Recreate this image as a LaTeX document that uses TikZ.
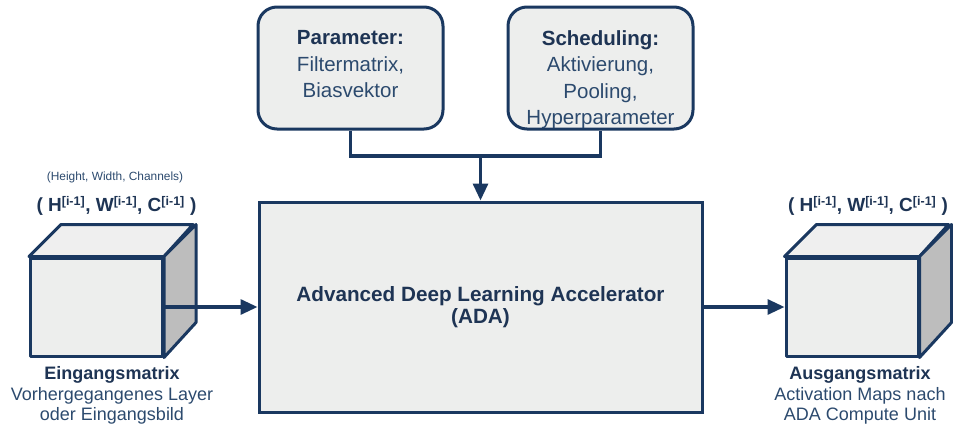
\documentclass[tikz,border=0pt]{standalone}
\usepackage{fontspec}
\setmainfont{Liberation Sans}
\usetikzlibrary{arrows.meta}
\definecolor{navy}{HTML}{1A3860}
\definecolor{txt}{HTML}{2C4A6E}
\definecolor{btxt}{HTML}{1E3454}
\definecolor{boxfill}{HTML}{EDEEED}
\definecolor{topfill}{HTML}{EFEFEF}
\definecolor{sidefill}{HTML}{BDBDBD}
\begin{document}
\begin{tikzpicture}[x=1pt,y=-1pt,line width=3pt,
  rbox/.style={draw=navy,fill=boxfill,rounded corners=19pt,minimum width=185pt,minimum height=122pt,inner sep=0pt},
  btext/.style={anchor=north,inner sep=0pt,align=center,text=txt,font=\fontsize{20.5}{26.5}\selectfont},
  adabox/.style={draw=navy,fill=boxfill,minimum width=443pt,minimum height=210pt,align=center,text=btxt,font=\bfseries\fontsize{20.7}{22}\selectfont},
  front/.style={draw=navy,fill=boxfill,minimum width=132pt,minimum height=98pt,inner sep=0pt,line join=round},
  face/.style={draw=navy,line join=round},
  dimtext/.style={inner sep=0pt,text=btxt,font=\bfseries\fontsize{19}{22}\selectfont},
  smalltext/.style={inner sep=0pt,text=txt,font=\fontsize{11.9}{14}\selectfont},
  captext/.style={anchor=north,inner sep=0pt,align=center,text=txt,font=\fontsize{18}{20.5}\selectfont},
  conn/.style={draw=navy,line width=3.2pt},
  arr/.style={conn,-{Triangle[length=17pt,width=15pt]}}
]
\useasboundingbox (0,0) rectangle (953,423);

% top boxes
\node[rbox] (param) at (350.5,68) {};
\node[btext] (paramt) at (350.5,29) {\textcolor{btxt}{\bfseries Parameter:}\\Filtermatrix,\\Biasvektor};
\node[rbox] (sched) at (600.5,68) {};
\node[btext] (schedt) at (600.5,29) {\textcolor{btxt}{\bfseries Scheduling:}\\Aktivierung,\\Pooling,\\Hyperparameter};

% ADA
\node[adabox] (ada) at (480.5,307) {Advanced Deep Learning Accelerator\\(ADA)};

% connectors from top boxes
\coordinate (join) at (480.5,156);
\draw[conn] (param.south) |- (join) -| (sched.south);
\draw[arr] (join) -- (ada.north);

% input cube
\node[front] (incube) at (96.5,307) {};
\draw[face,fill=topfill] (incube.north west) -- ++(32,-32) -- ++(132,0) -- (incube.north east) -- cycle;
\draw[face,fill=sidefill] (incube.north east) -- ++(32,-32) -- ++(0,98) -- (incube.south east) -- cycle;
\node[smalltext] (inhint) at (115,177) {(Height, Width, Channels)};
\node[dimtext] (indim) at (116.5,206) {( H\textsuperscript{\fontsize{12.5}{14}\selectfont[i-1]}, W\textsuperscript{\fontsize{12.5}{14}\selectfont[i-1]}, C\textsuperscript{\fontsize{12.5}{14}\selectfont[i-1]} )};
\node[captext] (incap) at (112,365) {\textcolor{btxt}{\bfseries Eingangsmatrix}\\Vorhergegangenes Layer\\oder Eingangsbild};

% output cube
\node[front] (outcube) at (852,307) {};
\draw[face,fill=topfill] (outcube.north west) -- ++(32,-32) -- ++(132,0) -- (outcube.north east) -- cycle;
\draw[face,fill=sidefill] (outcube.north east) -- ++(32,-32) -- ++(0,98) -- (outcube.south east) -- cycle;
\node[dimtext] (outdim) at (868,206) {( H\textsuperscript{\fontsize{12.5}{14}\selectfont[i-1]}, W\textsuperscript{\fontsize{12.5}{14}\selectfont[i-1]}, C\textsuperscript{\fontsize{12.5}{14}\selectfont[i-1]} )};
\node[captext] (outcap) at (860,365) {\textcolor{btxt}{\bfseries Ausgangsmatrix}\\Activation Maps nach\\ADA Compute Unit};

% horizontal arrows
\draw[arr] (incube.east) -- (ada.west);
\draw[arr] (ada.east) -- (outcube.west);
\end{tikzpicture}
\end{document}
